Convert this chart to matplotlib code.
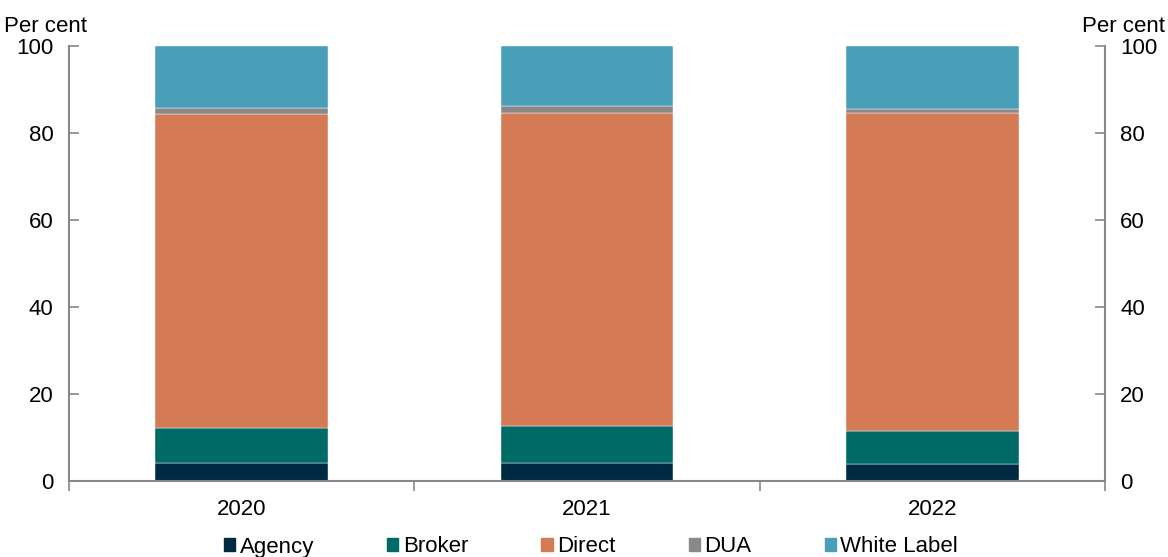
import matplotlib.pyplot as plt
from matplotlib.patches import Patch

plt.rcParams['font.family'] = ['Liberation Sans', 'DejaVu Sans']

years = ['2020', '2021', '2022']
agency = [4.1, 4.1, 3.9]
broker = [8.0, 8.5, 7.7]
direct = [72.3, 72.1, 72.9]
dua = [1.3, 1.4, 1.1]
white_label = [14.3, 13.9, 14.4]

series = [('Agency', agency, '#002A42'),
          ('Broker', broker, '#006A66'),
          ('Direct', direct, '#D47B55'),
          ('DUA', dua, '#898989'),
          ('White Label', white_label, '#489FB7')]

fig = plt.figure(figsize=(11.68, 5.57), dpi=100)
ax = fig.add_axes([69 / 1168, 1 - 481 / 557, (1105 - 69) / 1168, (481 - 46) / 557])

x = list(range(len(years)))
bottom = [0.0] * len(years)
for name, vals, col in series:
    ax.bar(x, vals, width=0.5, bottom=bottom, color=col, label=name,
           edgecolor='white', linewidth=0.3)
    bottom = [b + v for b, v in zip(bottom, vals)]

ax.set_xlim(-0.5, 2.5)
ax.set_ylim(0, 100)
ax.set_yticks(range(0, 101, 20))

axis_col = '#888888'
for side in ['left', 'right', 'bottom']:
    ax.spines[side].set_color(axis_col)
    ax.spines[side].set_linewidth(1.5)
ax.spines['top'].set_visible(False)

# category boundaries carry the ticks, labels sit at the centres
ax.set_xticks([-0.5, 0.5, 1.5, 2.5])
ax.set_xticklabels([])
ax.set_xticks(x, minor=True)
ax.set_xticklabels(years, minor=True)
ax.tick_params(axis='x', which='major', direction='out', length=7, width=1.2, color=axis_col)
ax.tick_params(axis='x', which='minor', length=0, pad=13, labelsize=16)
ax.tick_params(axis='y', direction='in', length=7, width=1.2, color=axis_col,
               labelsize=16, pad=11, right=True, labelright=True)

fig.text(4 / 1168, 1 - 27 / 557, 'Per cent', fontsize=16, ha='left', va='center')
fig.text(1165 / 1168, 1 - 27 / 557, 'Per cent', fontsize=16, ha='right', va='center')

handles = [Patch(color=col, label=name) for name, _, col in series]
fig.legend(handles=handles, loc='center', bbox_to_anchor=(0.5 + 7 / 1168, 1 - 547 / 557),
           ncol=5, frameon=False, fontsize=16, handlelength=0.5, handleheight=0.5,
           handletextpad=0.2, columnspacing=3.3, borderaxespad=0)

fig.savefig('out.png', dpi=100)
